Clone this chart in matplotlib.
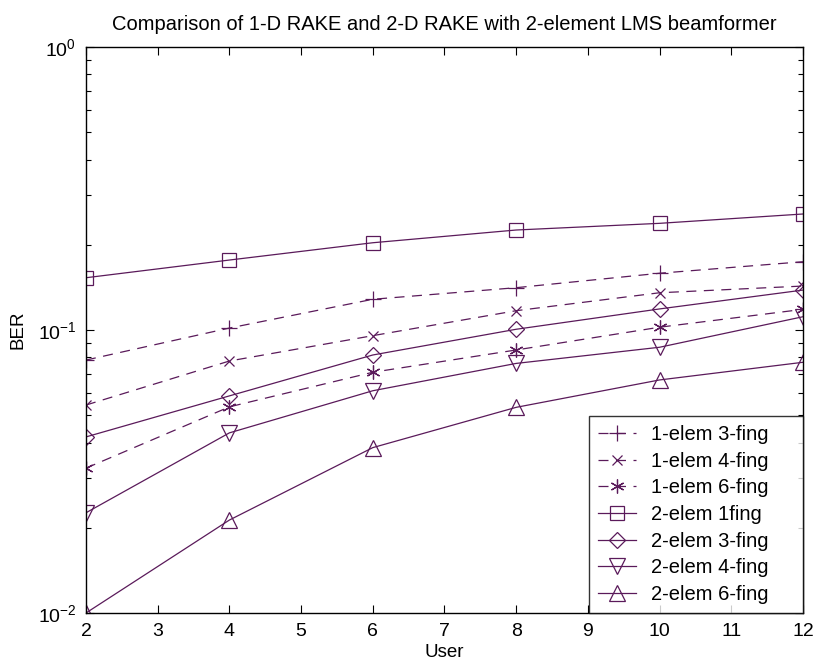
import matplotlib
matplotlib.use('Agg')
import matplotlib.pyplot as plt
from matplotlib.ticker import LogLocator, NullLocator, FixedLocator

plt.rcParams['font.family'] = ['Liberation Sans', 'DejaVu Sans']
plt.rcParams['mathtext.fontset'] = 'custom'
plt.rcParams['mathtext.rm'] = 'Liberation Sans'
plt.rcParams['mathtext.it'] = 'Liberation Sans'

users = [2, 4, 6, 8, 10, 12]

ber_1e_3f = [0.0783, 0.1016, 0.1284, 0.1411, 0.1587, 0.1743]
ber_1e_4f = [0.0543, 0.0777, 0.0955, 0.1170, 0.1354, 0.1430]
ber_1e_6f = [0.0325, 0.0535, 0.0709, 0.0850, 0.1023, 0.1183]
ber_2e_1f = [0.153, 0.1767, 0.2034, 0.2256, 0.2382, 0.257]
ber_2e_3f = [0.0419, 0.0585, 0.0816, 0.1006, 0.1187, 0.1384]
ber_2e_4f = [0.0226, 0.0433, 0.0610, 0.0762, 0.0869, 0.1114]
ber_2e_6f = [0.0100, 0.0213, 0.0384, 0.0533, 0.0666, 0.0769]

labels = ['1-elem 3-fing', '1-elem 4-fing', '1-elem 6-fing', '2-elem 1fing',
          '2-elem 3-fing', '2-elem 4-fing', '2-elem 6-fing']

col = '#5a1a5a'
asterisk = (6, 2, 0)

fig = plt.figure(figsize=(8.15, 6.66), dpi=100)
ax = fig.add_axes([0.1055, 0.0796, 0.8797, 0.8498])

dash = (0, (8, 6))
ax.plot(users, ber_1e_3f, linestyle=dash, color=col, lw=0.9, marker='+', ms=11, mew=0.9, label=labels[0])
ax.plot(users, ber_1e_4f, linestyle=dash, color=col, lw=0.9, marker='x', ms=7, mew=0.9, label=labels[1])
ax.plot(users, ber_1e_6f, linestyle=dash, color=col, lw=0.9, marker=asterisk, ms=10, mew=0.9, label=labels[2])
ax.plot(users, ber_2e_1f, '-', color=col, lw=0.9, marker='s', ms=10, mew=0.9, mfc='none', label=labels[3])
ax.plot(users, ber_2e_3f, '-', color=col, lw=0.9, marker='D', ms=8, mew=0.9, mfc='none', label=labels[4])
ax.plot(users, ber_2e_4f, '-', color=col, lw=0.9, marker='v', ms=12, mew=0.9, mfc='none', label=labels[5])
ax.plot(users, ber_2e_6f, '-', color=col, lw=0.9, marker='^', ms=12, mew=0.9, mfc='none', label=labels[6])

ax.set_yscale('log')
ax.set_xlim(2, 12)
ax.set_ylim(1e-2, 1e0)
ax.xaxis.set_major_locator(FixedLocator(range(2, 13)))
ax.xaxis.set_minor_locator(NullLocator())
ax.yaxis.set_major_locator(LogLocator(base=10, numticks=5))
ax.yaxis.set_minor_locator(LogLocator(base=10, subs=range(2, 10), numticks=20))

ax.tick_params(which='both', direction='in', top=True, right=True, labelsize=14, pad=7)
ax.tick_params(which='major', length=6, width=0.8)
ax.tick_params(which='minor', length=3.5, width=0.8)
for s in ax.spines.values():
    s.set_linewidth(1.0)

ax.set_xlabel('User', fontsize=13.5, labelpad=3)
ax.set_ylabel('BER', fontsize=13.5, labelpad=8)
ax.set_title('Comparison of 1-D RAKE and 2-D RAKE with 2-element LMS beamformer',
             fontsize=14.5, pad=12)

leg = ax.legend(loc='lower left', bbox_to_anchor=(0.7015, 0.0, 0.2985, 0.34), mode='expand',
                fontsize=14.5, frameon=True, fancybox=False, borderaxespad=0,
                handlelength=1.9, labelspacing=0.38, borderpad=0.45, handletextpad=0.75)
leg.get_frame().set_edgecolor('black')
leg.get_frame().set_linewidth(1.0)

fig.savefig('out.png', dpi=100)
